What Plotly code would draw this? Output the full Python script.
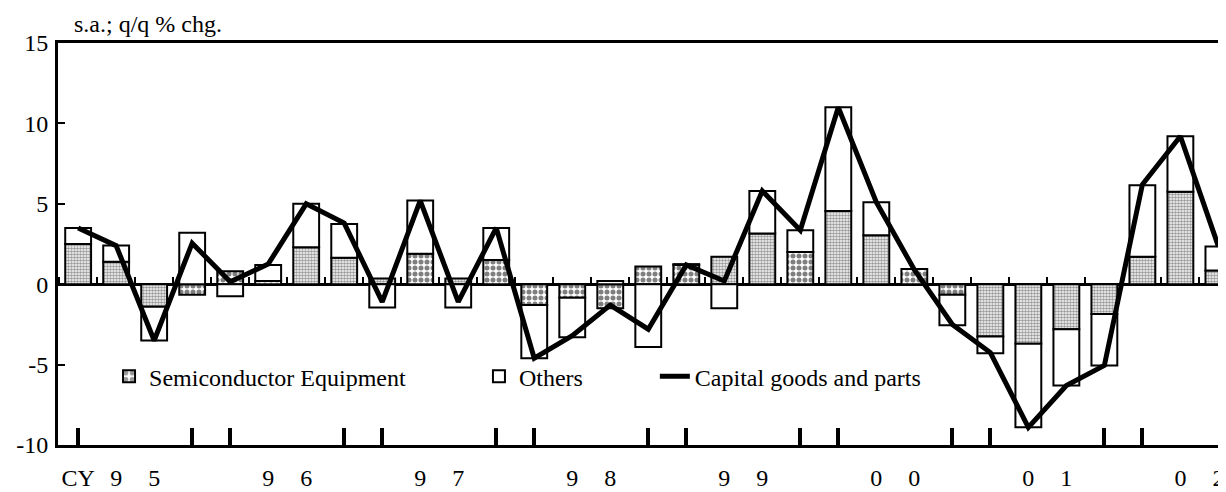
import plotly.graph_objects as go

# ---------------- data ----------------
quarters = ["95Q1", "95Q2", "95Q3", "95Q4", "96Q1", "96Q2", "96Q3", "96Q4",
            "97Q1", "97Q2", "97Q3", "97Q4", "98Q1", "98Q2", "98Q3", "98Q4",
            "99Q1", "99Q2", "99Q3", "99Q4", "00Q1", "00Q2", "00Q3", "00Q4",
            "01Q1", "01Q2", "01Q3", "01Q4", "02Q1", "02Q2", "02Q3"]

semiconductor = [2.5, 1.4, -1.4, -0.65, 0.8, 0.2, 2.3, 1.65,
                 0.35, 1.9, 0.35, 1.5, -1.3, -0.85, -1.5, 1.1,
                 1.2, 1.7, 3.15, 2.0, 4.55, 3.05, 0.95, -0.65,
                 -3.25, -3.7, -2.8, -1.85, 1.7, 5.75, 0.85]

others = [1.0, 1.0, -2.1, 3.2, -0.75, 1.0, 2.7, 2.1,
          -1.45, 3.3, -1.45, 2.0, -3.3, -2.45, 0.2, -3.9,
          0.05, -1.5, 2.65, 1.35, 6.45, 2.05, 0.0, -1.9,
          -1.05, -5.2, -3.5, -3.2, 4.45, 3.45, 1.5]

capital_goods = [3.5, 2.4, -3.5, 2.55, 0.15, 1.25, 5.0, 3.8,
                 -1.1, 5.2, -1.1, 3.5, -4.6, -3.2, -1.3, -2.8,
                 1.2, 0.2, 5.8, 3.35, 11.0, 5.1, 0.9, -2.5,
                 -4.25, -8.9, -6.3, -5.05, 6.2, 9.2, 2.35]

# bottom-axis labels (spaced year digits) and year-marker ticks
year_labels = ["CY", "9", "5", "", "", "9", "6", "",
               "", "9", "7", "", "", "9", "8", "",
               "", "9", "9", "", "", "0", "0", "",
               "", "0", "1", "", "", "0", "2"]
year_marker_quarters = ["95Q1", "95Q4", "96Q1", "96Q4", "97Q1", "97Q4", "98Q1", "98Q4",
                        "99Q1", "99Q4", "00Q1", "00Q4", "01Q1", "01Q4", "02Q1"]

y_ticks = [-10, -5, 0, 5, 10, 15]
y_tick_text = ["-10", "-5", "0", "5", "10", "15"]

# style of the semiconductor fill per bar ("g" fine grey, "c" coarse checker)
semi_fill_style = ["g", "g", "g", "c", "c", "c", "g", "g",
                   "g", "c", "g", "c", "c", "c", "c", "c",
                   "c", "g", "g", "c", "g", "g", "c", "c",
                   "g", "g", "g", "g", "g", "g", "g"]

# ---------------- figure ----------------
FONT = "Liberation Serif, Times New Roman, serif"
FS = 24
x = list(range(len(quarters)))
Y_MIN, Y_MAX = -10, 15
X_RANGE = [-0.53, 30.2]

pattern_size = [3 if s == "g" else 6 for s in semi_fill_style]
pattern_solid = [0.6 if s == "g" else 0.55 for s in semi_fill_style]
pattern_fg = ["#333333" if s == "g" else "black" for s in semi_fill_style]

fig = go.Figure()
fig.add_trace(go.Bar(
    x=x, y=semiconductor, name="Semiconductor Equipment",
    marker=dict(color="white", line=dict(color="black", width=2),
                pattern=dict(shape=".", fgcolor=pattern_fg, bgcolor="white",
                             size=pattern_size, solidity=pattern_solid)),
    legend="legend"))
fig.add_trace(go.Bar(
    x=x, y=others, name="Others",
    marker=dict(color="white", line=dict(color="black", width=2)),
    legend="legend2"))
fig.add_trace(go.Scatter(
    x=x, y=capital_goods, name="Capital goods and parts", mode="lines",
    line=dict(color="black", width=5), legend="legend3"))

zero_pos = (0 - Y_MIN) / (Y_MAX - Y_MIN)
boundaries = [i - 0.5 for i in x] + [x[-1] + 0.5]
marker_idx = [quarters.index(q) for q in year_marker_quarters]

legend_common = dict(orientation="h", y=0.17, xanchor="left", yanchor="middle",
                     bgcolor="rgba(0,0,0,0)", font=dict(family=FONT, size=FS))

fig.update_layout(
    width=1218, height=484,
    margin=dict(l=50, r=0, t=35, b=47),
    paper_bgcolor="white", plot_bgcolor="white",
    barmode="relative", bargap=0.32,
    font=dict(family=FONT, size=FS, color="black"),
    xaxis=dict(range=X_RANGE, showgrid=False, zeroline=False,
               showline=True, linecolor="black", linewidth=3, mirror=True,
               tickvals=marker_idx, ticktext=["" for _ in marker_idx],
               ticks="inside", ticklen=17, tickwidth=3.5, tickcolor="black"),
    xaxis2=dict(range=X_RANGE, overlaying="x", anchor="free", position=zero_pos,
                side="bottom", showgrid=False, zeroline=False,
                showline=True, linecolor="black", linewidth=3,
                tickvals=boundaries, ticks="inside", ticklen=6, tickwidth=2,
                tickcolor="black", showticklabels=False, layer="below traces"),
    xaxis3=dict(range=X_RANGE, overlaying="x", anchor="y", side="bottom",
                showgrid=False, zeroline=False, showline=False,
                tickvals=x, ticktext=year_labels, ticks="",
                ticklabelstandoff=16, tickfont=dict(family=FONT, size=FS)),
    yaxis=dict(range=[Y_MIN, Y_MAX], tickvals=y_ticks, ticktext=y_tick_text,
               showgrid=False, zeroline=False, showline=True, linecolor="black",
               linewidth=3, ticks="inside", ticklen=7, tickwidth=2, tickcolor="black",
               ticklabelstandoff=2, tickfont=dict(family=FONT, size=FS)),
    legend=dict(x=0.0437, **legend_common),
    legend2=dict(x=0.3604, **legend_common),
    legend3=dict(x=0.511, **legend_common),
    annotations=[dict(text="s.a.; q/q % chg.", xref="paper", yref="paper",
                      x=0.012, y=1, xanchor="left", yanchor="bottom", yshift=4,
                      showarrow=False, font=dict(family=FONT, size=FS))],
)

# invisible helpers so the overlay axes are drawn
fig.add_trace(go.Scatter(x=[X_RANGE[0]], y=[0], xaxis="x2", mode="markers",
                         marker=dict(opacity=0), showlegend=False, hoverinfo="skip"))
fig.add_trace(go.Scatter(x=[X_RANGE[0]], y=[0], xaxis="x3", mode="markers",
                         marker=dict(opacity=0), showlegend=False, hoverinfo="skip"))

fig.write_html("out.html")
